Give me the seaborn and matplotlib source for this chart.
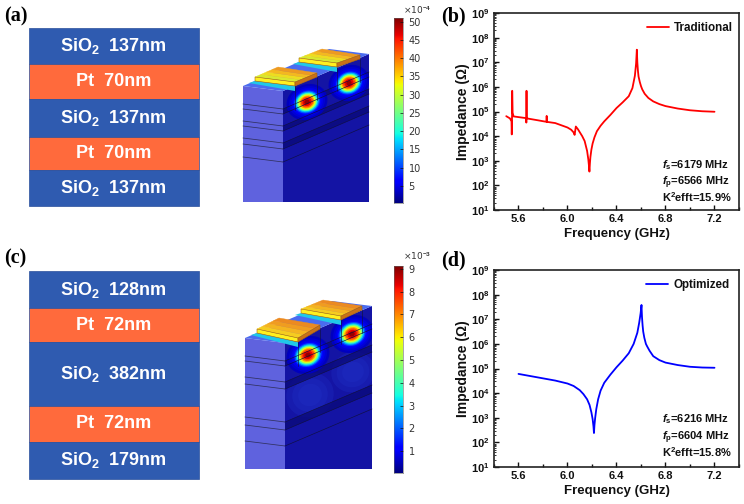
import numpy as np
import pandas as pd
import matplotlib
matplotlib.use("Agg")
import matplotlib.pyplot as plt
from matplotlib.patches import Polygon, Ellipse, Rectangle
from matplotlib.ticker import LogLocator, MultipleLocator, NullFormatter
import seaborn as sns

# ---- data ----
trad_freq = [5.50,5.53,5.543,5.545,5.547,5.548,5.549,5.552,5.56,5.663,5.664,5.665,5.666,5.667,5.668,5.75,5.829,5.83,5.831,5.9,6.0,6.03,6.05,6.058,6.068,6.085,6.10,6.12,6.14,6.16,6.17,6.175,6.179,6.183,6.187,6.195,6.205,6.22,6.24,6.27,6.30,6.35,6.40,6.45,6.50,6.53,6.55,6.56,6.566,6.57,6.575,6.58,6.59,6.60,6.61,6.63,6.66,6.70,6.75,6.80,6.90,7.00,7.10,7.20]
trad_logz = [4.81,4.72,4.60,4.07,4.5,5.84,5.84,4.95,4.80,4.73,4.55,5.84,5.84,4.73,4.72,4.65,4.58,4.82,4.58,4.53,4.35,4.26,4.15,4.05,4.39,4.28,4.16,4.0,3.8,3.4,3.05,2.8,2.56,2.9,3.15,3.45,3.7,3.95,4.2,4.42,4.6,4.86,5.14,5.37,5.62,5.95,6.45,6.95,7.51,7.0,6.65,6.42,6.2,6.03,5.9,5.72,5.55,5.41,5.30,5.22,5.12,5.05,5.01,4.99]
opt_freq = [5.6,5.7,5.8,5.9,6.0,6.05,6.1,6.13,6.16,6.18,6.195,6.205,6.212,6.216,6.22,6.226,6.235,6.25,6.27,6.3,6.35,6.4,6.45,6.5,6.54,6.57,6.585,6.597,6.604,6.608,6.613,6.618,6.627,6.64,6.65,6.67,6.7,6.75,6.8,6.9,7.0,7.1,7.2]
opt_logz = [4.78,4.69,4.60,4.51,4.39,4.29,4.12,3.96,3.75,3.52,3.22,2.95,2.65,2.38,2.7,3.0,3.35,3.75,4.1,4.42,4.75,5.05,5.32,5.62,6.0,6.45,6.85,7.25,7.58,7.1,6.75,6.5,6.25,6.0,5.9,5.72,5.5,5.34,5.24,5.14,5.07,5.04,5.03]
freq_ticks = [5.6, 6.0, 6.4, 6.8, 7.2]
notes_b = ["6179", "6566", "15.9"]
notes_d = ["6216", "6604", "15.8"]
stack_a = [("SiO$_2$  137nm", "s"), ("Pt  70nm", "p"), ("SiO$_2$  137nm", "s"), ("Pt  70nm", "p"), ("SiO$_2$  137nm", "s")]
stack_c = [("SiO$_2$  128nm", "s"), ("Pt  72nm", "p"), ("SiO$_2$  382nm", "s"), ("Pt  72nm", "p"), ("SiO$_2$  179nm", "s")]
edges_a = [28, 64, 99, 137, 170, 206]
edges_c = [271, 308, 342, 406, 442, 479]
cbar_a_ticks = [5, 10, 15, 20, 25, 30, 35, 40, 45, 50]
cbar_c_ticks = [1, 2, 3, 4, 5, 6, 7, 8, 9]
# hot-spot contour levels: (radius scale, fraction of colour range)
spot_levels = [(1.0,.055),(.88,.075),(.78,.095),(.7,.13),(.63,.2),(.57,.3),(.51,.42),(.46,.54),(.41,.64),(.36,.74),(.3,.83),(.22,.91),(.13,.98)]

W, H = 744, 504
sns.set_theme(style="ticks")
plt.rcParams.update({
    "font.family": ["Liberation Sans", "DejaVu Sans"], "font.weight": "bold",
    "axes.labelweight": "bold", "mathtext.fontset": "custom",
    "mathtext.rm": "Liberation Sans:bold", "mathtext.it": "Liberation Sans:italic:bold",
    "mathtext.bf": "Liberation Sans:bold", "mathtext.default": "rm",
    "axes.edgecolor": "#222222", "xtick.color": "#111111", "ytick.color": "#111111",
    "text.color": "#111111", "axes.labelcolor": "#111111",
})
fig = plt.figure(figsize=(W/100, H/100), dpi=100, facecolor="white")
bg = fig.add_axes([0, 0, 1, 1], zorder=0)
bg.set_xlim(0, W); bg.set_ylim(H, 0); bg.axis("off")

def stack(spec, edges):
    col = {"s": "#2F5BB0", "p": "#FF6A3C"}
    for (lab, k), y0, y1 in zip(spec, edges[:-1], edges[1:]):
        bg.add_patch(Rectangle((28.5, y0), 170, y1-y0, fc=col[k], ec="#2A4F9C", lw=.5))
        bg.text(113.5, (y0+y1)/2, lab, color="white", fontsize=13, ha="center", va="center")

stack(stack_a, edges_a)
stack(stack_c, edges_c)
for s, x, y in [("(a)", 4, 16), ("(b)", 441, 16), ("(c)", 4, 258), ("(d)", 441, 260)]:
    bg.text(x, y, s, family="Liberation Serif", fontsize=14.5, weight="bold", va="center", color="black")

jet = plt.get_cmap("jet")

def block(x0, x1, x2, ytop, ybot, rise, lines, dark, glow, spots, el1, el2, el_cols):
    yr = ytop + 5
    bg.add_patch(Polygon([(x0, ytop), (x1, yr), (x1, ybot), (x0, ybot)], fc="#5F62DE", ec="none", zorder=2))
    bg.add_patch(Polygon([(x1, yr), (x2, yr-rise), (x2, ybot), (x1, ybot)], fc="#1414A4", ec="none", zorder=2))
    bg.add_patch(Polygon([(x0, ytop), (x1, yr), (x2, yr-rise), (x2-40, yr-rise-5)], fc="#4A6CF0", ec="none", zorder=2))
    clip = Polygon([(x1, yr), (x2, yr-rise), (x2, ybot), (x1, ybot)], transform=bg.transData)
    for cx, cy, rx, ry in glow:
        for a in (1.0, .75, .5):
            e = Ellipse((cx, cy), rx*a*2, ry*a*2, angle=-24, fc="#2030C8", alpha=.3, ec="none", zorder=2.5)
            bg.add_patch(e); e.set_clip_path(clip)
    for i, j in dark:
        p = Polygon([(x1, lines[i]+5), (x2, lines[i]+5-rise), (x2, lines[j]+5-rise), (x1, lines[j]+5)],
                    fc="#0A0A78", alpha=.75, ec="none", zorder=2.6)
        bg.add_patch(p)
    for cx, cy, r in spots:
        for k, v in spot_levels:
            e = Ellipse((cx, cy), 2.1*r*k, 1.75*r*k, angle=-24, fc=jet(v), ec="none", zorder=3)
            bg.add_patch(e); e.set_clip_path(clip)
    for yl in lines:
        bg.plot([x0, x1], [yl, yl+5], color="#30305f", lw=.55, zorder=4)
        bg.plot([x1, x2], [yl+5, yl+5-rise], color="#101040", lw=.45, zorder=4)
    for el in (el1, el2):
        a, b, c, d = [np.array(p, float) for p in el]
        th = np.array([0, 4.0])
        bg.add_patch(Polygon([a+th, d+th, d+th+(0, 5), a+th+(-6, 2)], fc="#20C8E8", ec="none", zorder=4))
        n = len(el_cols)
        for i, colr in enumerate(el_cols):
            t0, t1 = i/n, (i+1)/n
            bg.add_patch(Polygon([a+(b-a)*t0, d+(c-d)*t0, d+(c-d)*t1, a+(b-a)*t1], fc=colr, ec=colr, lw=.3, zorder=5))
        bg.add_patch(Polygon([a, d, d+th, a+th], fc="#FFF020", ec="#A06010", lw=.4, zorder=5))
        bg.add_patch(Polygon([d, c, c+th, d+th], fc="#C87018", ec="#A06010", lw=.4, zorder=5))
        bg.plot([d[0], d[0]], [d[1]+4, d[1]+28], color="#101040", lw=.45, zorder=4)
        bg.plot([c[0], c[0]], [c[1]+4, c[1]+27], color="#101040", lw=.45, zorder=4)

block(243, 283, 369, 86, 202, 37,
      [104, 109, 121, 126, 138, 144, 157], [(0, 1), (2, 3), (4, 5)], [],
      [(307, 102, 20), (349, 83, 20)],
      [(255, 77), (278, 67), (317, 73), (295, 82)], [(299, 58), (322, 49), (360, 55), (337, 63)],
      ["#D8E830", "#EEDC20", "#F4B820", "#EE9A20"])
block(245, 285, 372, 338, 469, 37,
      [356, 361, 377, 384, 417, 425, 441], [(0, 1), (2, 3), (4, 5)], [(310, 395, 24, 22), (353, 372, 22, 20)],
      [(308, 355, 21), (352, 334, 21)],
      [(257, 329), (279, 318), (320, 325), (298, 338)], [(301, 309), (323, 300), (362, 306), (341, 316)],
      ["#F5CC20", "#F4B420", "#F09C20", "#EC8A20"])

def cbar(rect, vmin, vmax, ticks, expo, expo_y):
    ax = fig.add_axes([rect[0]/W, 1-rect[3]/H, (rect[2]-rect[0])/W, (rect[3]-rect[1])/H], zorder=2)
    ax.imshow(np.linspace(vmax, vmin, 256)[:, None], aspect="auto", cmap="jet", extent=[0, 1, vmin, vmax], vmin=vmin, vmax=vmax)
    ax.set_xticks([])
    ax.yaxis.tick_right()
    ax.set_yticks(ticks)
    ax.set_yticklabels([str(t) for t in ticks], family="DejaVu Sans", weight="normal", fontsize=7, color="#333333")
    ax.tick_params(axis="y", direction="in", length=2, width=.5, pad=4)
    for s in ax.spines.values():
        s.set_linewidth(.4); s.set_color("#666666")
    bg.text(rect[0]+9, expo_y, "×10$^{%s}$" % expo, family="DejaVu Sans", weight="normal", fontsize=6.5, color="#333333", va="center")

cbar((394, 18, 403, 203), .3, 51, cbar_a_ticks, "-4", 10)
cbar((394, 266, 403, 473), .05, 9.12, cbar_c_ticks, "-3", 256)

def imp(rect, freq, logz, color, name, notes, ys, leg_right):
    ax = fig.add_axes([rect[0]/W, 1-rect[3]/H, (rect[2]-rect[0])/W, (rect[3]-rect[1])/H], zorder=2)
    df = pd.DataFrame({"f": freq, "z": 10.0**np.array(logz)})
    sns.lineplot(data=df, x="f", y="z", color=color, lw=1.3, ax=ax, estimator=None, sort=False, label=name)
    ax.set_yscale("log")
    ax.set_xlim(5.4, 7.4); ax.set_ylim(1e1, 1e9)
    ax.set_xticks(freq_ticks)
    ax.xaxis.set_minor_locator(MultipleLocator(.2))
    ax.yaxis.set_major_locator(LogLocator(base=10, numticks=12))
    ax.yaxis.set_minor_locator(LogLocator(base=10, subs=np.arange(2, 10), numticks=12))
    ax.yaxis.set_minor_formatter(NullFormatter())
    ax.tick_params(which="major", direction="in", length=3.5, width=1, labelsize=8, pad=3)
    ax.tick_params(axis="y", which="minor", direction="in", length=1.3, width=.6)
    ax.tick_params(axis="x", which="minor", direction="in", length=2, width=1)
    for s in ax.spines.values():
        s.set_linewidth(1.2)
    ax.set_xlabel("Frequency (GHz)", fontsize=9.5, labelpad=3)
    ax.set_ylabel("Impedance (Ω)", fontsize=10, labelpad=1)
    ax.legend(loc="upper right", frameon=False, fontsize=8.4, handlelength=1.9, handletextpad=.4,
              borderaxespad=0, borderpad=0, bbox_to_anchor=(leg_right, .955))
    tx = .685
    ax.text(tx, ys[0], r"$\mathit{f}_{\mathrm{s}}$=%s MHz" % notes[0], transform=ax.transAxes, fontsize=8, va="center")
    ax.text(tx, ys[1], r"$\mathit{f}_{\mathrm{p}}$=%s MHz" % notes[1], transform=ax.transAxes, fontsize=8, va="center")
    ax.text(tx, ys[2], "K$^{2}$efft=%s%%" % notes[2], transform=ax.transAxes, fontsize=8, va="center")

imp((494, 13, 739, 210), trad_freq, trad_logz, "#FF0000", "Traditional", notes_b, (.228, .137, .065), .975)
imp((494, 270, 739, 467), opt_freq, opt_logz, "#0000FF", "Optimized", notes_d, (.245, .147, .075), .96)

fig.savefig("out.png", dpi=100)
